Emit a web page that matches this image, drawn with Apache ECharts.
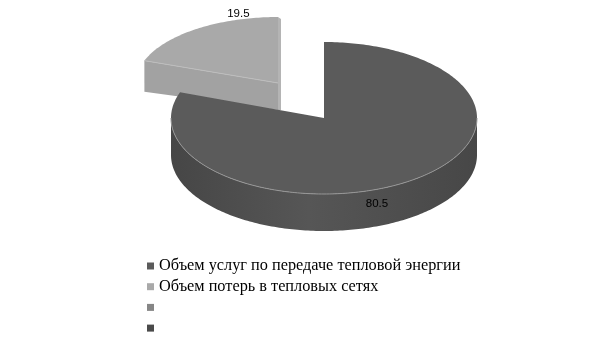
<!DOCTYPE html>
<html>
<head>
<meta charset="utf-8">
<script src="https://cdn.jsdelivr.net/npm/echarts@6/dist/echarts.min.js"></script>
<style>html,body{margin:0;padding:0;background:#fff}#c{width:606px;height:341px}</style>
</head>
<body>
<div id="c"></div>
<script>
// ---- data ----
const categories = ['Объем услуг по передаче тепловой энергии', 'Объем потерь в тепловых сетях', ' ', '  '];
const values = [80.5, 19.5, 0, 0];
const exploded = [false, true, false, false];

// ---- styles ----
const topColors = ['#5b5b5b', '#a9a9a9', '#868686', '#4a4a4a'];
const sideColors = ['#505050', '#a2a2a2', '#7a7a7a', '#404040'];

// geometry of the 3D pie (screen pixels)
const mainGeom = { cx: 324, cy: 118, rx: 153, ry: 76, depth: 37 };
const explodeGeom = { cx: 278, cy: 83, rx: 142, ry: 66, depth: 27 };
const labelOffset = [[-35, 24], [42, -15]];

const total = values.reduce((a, b) => a + b, 0);
const cum = [];
values.reduce((acc, v, i) => { cum[i] = acc; return acc + v; }, 0);

function pt(g, deg, dy) {
  const r = deg * Math.PI / 180;
  return [g.cx + g.rx * Math.sin(r), g.cy - g.ry * Math.cos(r) + (dy || 0)];
}
function arc(g, a, b, dy) {
  const n = Math.max(2, Math.ceil(Math.abs(b - a)));
  const out = [];
  for (let k = 0; k <= n; k++) out.push(pt(g, a + (b - a) * k / n, dy));
  return out;
}

function renderItem(params, api) {
  const v = api.value(0), start = api.value(1), tot = api.value(2), idx = api.value(3);
  if (!(v > 0)) return null;
  const t0 = start / tot * 360, t1 = (start + v) / tot * 360;
  const g = exploded[idx] ? explodeGeom : mainGeom;
  const children = [];
  const apex = [g.cx, g.cy];
  const apexB = [g.cx, g.cy + g.depth];

  // radial face at end edge (perspective strip)
  if (exploded[idx]) {
    const e = pt(g, t1, 0);
    children.push({ type: 'polygon', shape: { points: [apex, e, [e[0] + 3, e[1] + 2], [apex[0] + 3, apexB[1]], [apex[0], apexB[1]]] },
      style: { fill: '#b4b4b4' } });
  }
  // radial face at start edge if facing viewer
  if (Math.sin(t0 * Math.PI / 180) < -0.05) {
    const s = pt(g, t0, 0), sb = pt(g, t0, g.depth + 4);
    children.push({ type: 'polygon', shape: { points: [apex, s, sb, apexB] }, style: { fill: sideColors[idx] } });
  }
  // outer wall
  const a = Math.max(t0, 90), b = Math.min(t1, 270);
  if (b > a) {
    const pts = arc(g, a, b, 0).concat(arc(g, b, a, g.depth));
    children.push({ type: 'polygon', shape: { points: pts },
      style: { fill: new echarts.graphic.LinearGradient(0, 0, 1, 0, [
        { offset: 0, color: '#464646' }, { offset: 0.45, color: '#565656' }, { offset: 1, color: '#474747' }]) } });
  }
  // top face
  const topPts = [apex].concat(arc(g, t0, t1, 0));
  children.push({ type: 'polygon', shape: { points: topPts }, style: { fill: topColors[idx] } });
  // rim highlight
  if (b > a) {
    children.push({ type: 'polyline', shape: { points: arc(g, a, b, 0) }, style: { stroke: '#979797', lineWidth: 1, fill: null } });
  }
  if (exploded[idx]) {
    children.push({ type: 'polyline', shape: { points: [apex, pt(g, t0, 0)] }, style: { stroke: '#bdbdbd', lineWidth: 1, fill: null } });
  }
  // label
  const mid = pt(g, (t0 + t1) / 2, 0);
  const off = labelOffset[idx] || [0, 0];
  children.push({ type: 'text', style: { x: mid[0] + off[0], y: mid[1] + off[1], text: String(v),
    fill: '#000', font: '11.5px "Liberation Sans", Arial, sans-serif', align: 'center', verticalAlign: 'middle' } });
  return { type: 'group', children: children };
}

const series = categories.map((name, i) => ({
  type: 'custom',
  name: name,
  coordinateSystem: 'none',
  z: exploded[i] ? 1 : 3,
  silent: true,
  animation: false,
  itemStyle: { color: topColors[i] },
  data: [[values[i], cum[i], total, i]],
  renderItem: renderItem
}));

const chart = echarts.init(document.getElementById('c'), null, { renderer: 'canvas' });
chart.setOption({
  backgroundColor: '#fff',
  animation: false,
  legend: {
    orient: 'vertical', left: 147, top: 258, bottom: 0, padding: 0,
    itemWidth: 7, itemHeight: 7, itemGap: 4.7, icon: 'rect',
    selectedMode: false,
    textStyle: { fontFamily: '"Liberation Serif", "Times New Roman", serif', fontSize: 16.3, color: '#000', lineHeight: 16 },
    data: categories
  },
  series: series
});
</script>
</body>
</html>
